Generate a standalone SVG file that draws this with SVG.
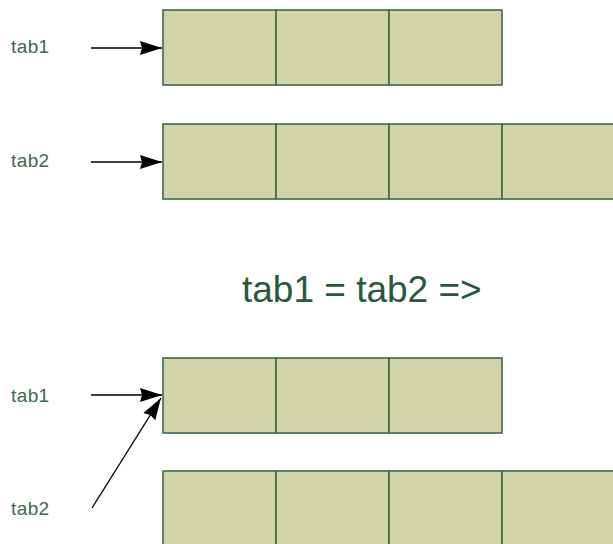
<svg xmlns="http://www.w3.org/2000/svg" width="613" height="544" viewBox="0 0 613 544">
<style>
.cell{fill:#d2d3aa;stroke:#3e6a46;stroke-width:1.6}
.lbl{font-family:"Liberation Sans",Arial,sans-serif;font-size:19px;letter-spacing:0.4px;fill:#3d6b4c}
.title{font-family:"Liberation Sans",Arial,sans-serif;font-size:37px;fill:#2a583a}
.conn{stroke:#000;stroke-width:1.4;fill:none}
</style>
<defs>
<marker id="ah" markerWidth="24" markerHeight="16" refX="22" refY="8" orient="auto" markerUnits="userSpaceOnUse">
<path d="M0,1 L22,8 L0,15 L2,8 Z" fill="#000"/>
</marker>
</defs>
<rect width="613" height="544" fill="#fff"/>
<g id="row1">
<rect class="cell" x="163" y="10" width="113" height="75"/>
<rect class="cell" x="276" y="10" width="113" height="75"/>
<rect class="cell" x="389" y="10" width="113" height="75"/>
</g>
<g id="row2">
<rect class="cell" x="163" y="124" width="113" height="75"/>
<rect class="cell" x="276" y="124" width="113" height="75"/>
<rect class="cell" x="389" y="124" width="113" height="75"/>
<rect class="cell" x="502" y="124" width="113" height="75"/>
</g>
<g id="row3">
<rect class="cell" x="163" y="358" width="113" height="75"/>
<rect class="cell" x="276" y="358" width="113" height="75"/>
<rect class="cell" x="389" y="358" width="113" height="75"/>
</g>
<g id="row4">
<rect class="cell" x="163" y="471" width="113" height="80"/>
<rect class="cell" x="276" y="471" width="113" height="80"/>
<rect class="cell" x="389" y="471" width="113" height="80"/>
<rect class="cell" x="502" y="471" width="113" height="80"/>
</g>
<g id="labels">
<text class="lbl" x="11" y="53">tab1</text>
<text class="lbl" x="11" y="167">tab2</text>
<text class="lbl" x="11" y="402">tab1</text>
<text class="lbl" x="11" y="515">tab2</text>
<text class="title" x="242" y="302">tab1 = tab2 =&gt;</text>
</g>
<g id="connectors">
<line class="conn" x1="91" y1="48" x2="162" y2="48" marker-end="url(#ah)"/>
<line class="conn" x1="91" y1="162" x2="162" y2="162" marker-end="url(#ah)"/>
<line class="conn" x1="91" y1="395" x2="162" y2="395" marker-end="url(#ah)"/>
<line class="conn" x1="92" y1="508" x2="161" y2="398" marker-end="url(#ah)"/>
</g>
</svg>
